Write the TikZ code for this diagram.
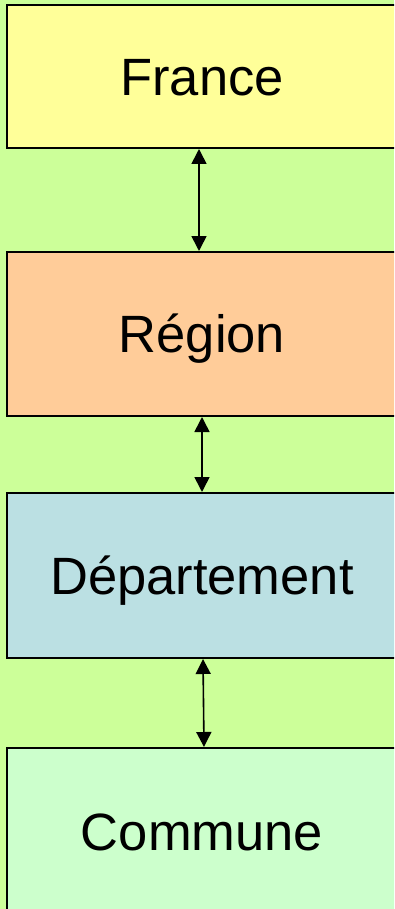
\documentclass[tikz,border=0pt]{standalone}
\usepackage{fontspec}
\setmainfont{Liberation Sans}
\usetikzlibrary{arrows.meta}
\definecolor{bg}{HTML}{CCFF99}
\definecolor{cfr}{HTML}{FFFF99}
\definecolor{creg}{HTML}{FFCC99}
\definecolor{cdep}{HTML}{BBE0E3}
\definecolor{ccom}{HTML}{CCFFCC}
\tikzset{
  levelbox/.style={draw=black, line width=2pt, rectangle, minimum width=390pt, inner sep=0pt,
    text height=37.6pt, text depth=0pt, font=\fontsize{52.5}{60}\selectfont},
  link/.style={line width=1.6pt, {Triangle[length=15pt,width=15pt]}-{Triangle[length=15pt,width=15pt]}}
}
\begin{document}
\begin{tikzpicture}[x=1pt,y=-1pt]
\useasboundingbox (0,0) rectangle (394,909);
\clip (0,0) rectangle (394,909);
\fill[bg] (0,0) rectangle (394,909);
\node[levelbox, fill=cfr, minimum height=143pt] (france) at (202,76.5) {France};
\node[levelbox, fill=creg, minimum height=164pt] (region) at (202,334) {Région};
\node[levelbox, fill=cdep, minimum height=165pt] (dep) at (202,575.5) {Département};
\node[levelbox, fill=ccom, minimum height=168pt] (commune) at (202,832) {Commune};
\draw[link] ([xshift=-3pt]france.south) -- ([xshift=-3pt]region.north);
\draw[link] (region.south) -- (dep.north);
\draw[link] ([xshift=1pt]dep.south) -- ([xshift=2pt]commune.north);
\end{tikzpicture}
\end{document}
